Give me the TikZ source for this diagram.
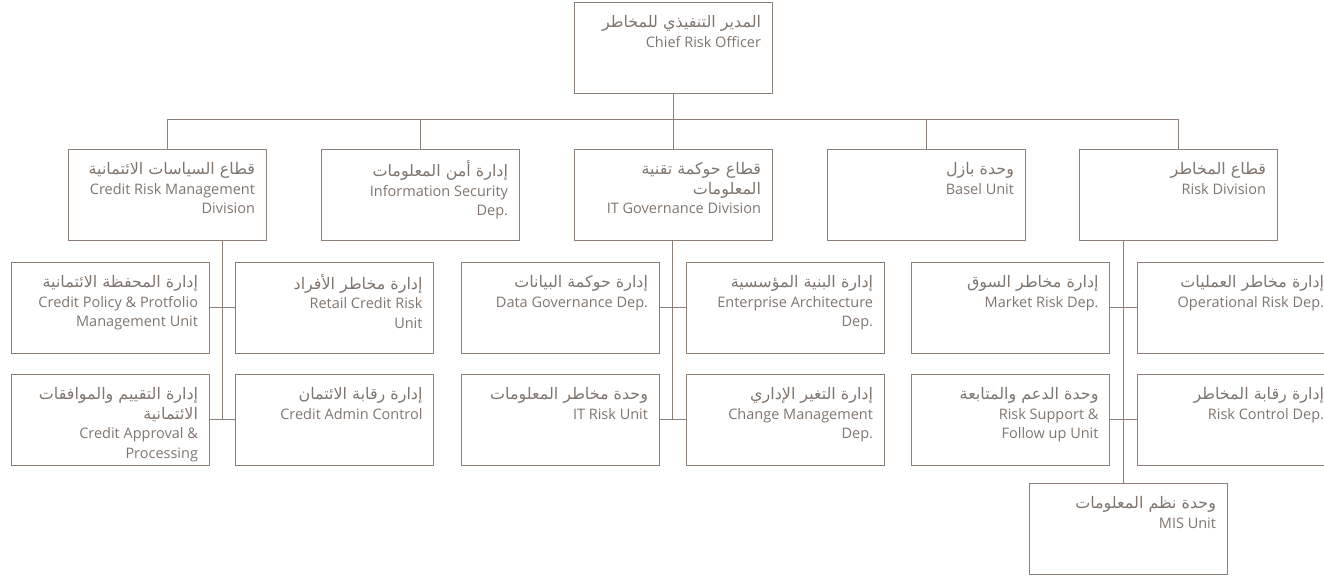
\documentclass[tikz,border=0pt]{standalone}
\usepackage{fontspec}
\setmainfont{Open Sans}
\newfontfamily\arabicfont[Script=Arabic,Scale=1.1]{DejaVu Sans}
\TeXXeTstate=1
\usepackage{xcolor}
\usetikzlibrary{calc, positioning}
\definecolor{orgline}{RGB}{140,128,120}
\definecolor{orgtext}{RGB}{128,117,110}
\newcommand{\arb}[1]{{\arabicfont\beginR #1\endR}}
\newcommand{\unittxt}[1]{\parbox[c][67pt][t]{176pt}{\raggedleft\strut #1}}

\begin{document}
\begin{tikzpicture}[x=1pt,y=-1pt,
  unitbox/.style={draw=orgline, line width=1pt, minimum width=198pt, minimum height=91pt,
    inner xsep=11pt, inner ysep=12pt, text=orgtext, font=\fontsize{14.5}{19.5}\selectfont},
  link/.style={draw=orgline, line width=1pt}]
  \useasboundingbox (0,0) rectangle (1324,576);

  \node[unitbox] (cro) at (673,47.5) {\unittxt{\arb{المدير التنفيذي للمخاطر}\\Chief Risk Officer}};

  \node[unitbox] (crm) at (167,194.5) {\unittxt{\arb{قطاع السياسات الائتمانية}\\Credit Risk Management\\Division}};
  \node[unitbox] (infosec) at (420,194.5) {\unittxt{\arb{إدارة أمن المعلومات}\\Information Security\\Dep.}};
  \node[unitbox] (itgov) at (673,194.5) {\unittxt{\arb{قطاع حوكمة تقنية}\\\arb{المعلومات}\\IT Governance Division}};
  \node[unitbox] (basel) at (926,194.5) {\unittxt{\arb{وحدة بازل}\\Basel Unit}};
  \node[unitbox] (riskdiv) at (1178,194.5) {\unittxt{\arb{قطاع المخاطر}\\Risk Division}};

  \node[unitbox] (crmpol) at (110,307.5) {\unittxt{\arb{إدارة المحفظة الائتمانية}\\Credit Policy \& Protfolio\\Management Unit}};
  \node[unitbox] (crmret) at (334.5,307.5) {\unittxt{\arb{إدارة مخاطر الأفراد}\\Retail Credit Risk\\Unit}};
  \node[unitbox] (crmapp) at (110,419.5) {\unittxt{\arb{إدارة التقييم والموافقات}\\\arb{الائتمانية}\\Credit Approval \&\\Processing}};
  \node[unitbox] (crmadm) at (334.5,419.5) {\unittxt{\arb{إدارة رقابة الائتمان}\\Credit Admin Control}};

  \node[unitbox] (itdata) at (560,307.5) {\unittxt{\arb{إدارة حوكمة البيانات}\\Data Governance Dep.}};
  \node[unitbox] (itarch) at (785,307.5) {\unittxt{\arb{إدارة البنية المؤسسية}\\Enterprise Architecture\\Dep.}};
  \node[unitbox] (itrisk) at (560,419.5) {\unittxt{\arb{وحدة مخاطر المعلومات}\\IT Risk Unit}};
  \node[unitbox] (itchange) at (785,419.5) {\unittxt{\arb{إدارة التغير الإداري}\\Change Management\\Dep.}};

  \node[unitbox] (rkmarket) at (1010.5,307.5) {\unittxt{\arb{إدارة مخاطر السوق}\\Market Risk Dep.}};
  \node[unitbox] (rkops) at (1236,307.5) {\unittxt{\arb{إدارة مخاطر العمليات}\\Operational Risk Dep.}};
  \node[unitbox] (rksupport) at (1010.5,419.5) {\unittxt{\arb{وحدة الدعم والمتابعة}\\Risk Support \&\\Follow up Unit}};
  \node[unitbox] (rkcontrol) at (1236,419.5) {\unittxt{\arb{إدارة رقابة المخاطر}\\Risk Control Dep.}};
  \node[unitbox] (rkmis) at (1128,528.5) {\unittxt{\arb{وحدة نظم المعلومات}\\MIS Unit}};

  % bus to the divisions
  \coordinate (bus) at (0,119);
  \draw[link] (cro.south) -- (cro.south |- bus);
  \draw[link] (crm.north) |- (riskdiv.north |- bus) -- (riskdiv.north);
  \foreach \n in {infosec,itgov,basel}
    \draw[link] (\n.north) -- (\n.north |- bus);

  % trunks under the divisions
  \coordinate (crmtrunk) at ($(crmpol.east)!0.5!(crmret.west)$);
  \coordinate (ittrunk) at ($(itdata.east)!0.5!(itarch.west)$);
  \coordinate (rktrunk) at ($(rkmarket.east)!0.5!(rkops.west)$);
  \draw[link] (crmtrunk |- crm.south) -- (crmtrunk |- crmapp.east);
  \draw[link] (ittrunk |- itgov.south) -- (ittrunk |- itrisk.east);
  \draw[link] (rktrunk |- riskdiv.south) -- (rktrunk |- rkmis.north);
  \foreach \l/\r in {crmpol/crmret,crmapp/crmadm,itdata/itarch,itrisk/itchange,rkmarket/rkops,rksupport/rkcontrol}
    \draw[link] (\l.east) -- (\r.west);
\end{tikzpicture}
\end{document}
